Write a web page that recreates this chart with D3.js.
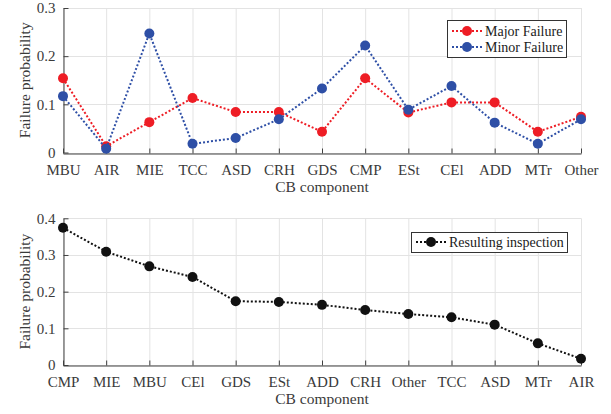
<!DOCTYPE html>
<html>
<head>
<meta charset="utf-8">
<script src="https://cdn.jsdelivr.net/npm/d3@7"></script>
<style>
  body { margin: 0; background: #fff; }
  .grid line { stroke: #e3e3e3; stroke-width: 1; }
</style>
</head>
<body>
<div id="chart"></div>
<script>
var width = 611, height = 414;
var serif = "'Liberation Serif', 'Times New Roman', Times, serif";

// top panel data
var catsTop = ["MBU", "AIR", "MIE", "TCC", "ASD", "CRH", "GDS", "CMP", "ESt", "CEl", "ADD", "MTr", "Other"];
var majorFailure = [0.154, 0.013, 0.063, 0.113, 0.084, 0.084, 0.043, 0.154, 0.083, 0.104, 0.104, 0.043, 0.074];
var minorFailure = [0.117, 0.008, 0.247, 0.018, 0.030, 0.069, 0.133, 0.222, 0.089, 0.138, 0.062, 0.018, 0.069];
var ticksTop = [0, 0.1, 0.2, 0.3];

// bottom panel data
var catsBottom = ["CMP", "MIE", "MBU", "CEl", "GDS", "ESt", "ADD", "CRH", "Other", "TCC", "ASD", "MTr", "AIR"];
var resulting = [0.374, 0.309, 0.269, 0.240, 0.174, 0.172, 0.164, 0.150, 0.139, 0.130, 0.110, 0.059, 0.017];
var ticksBottom = [0, 0.1, 0.2, 0.3, 0.4];

var red = "#ee1d25", blue = "#2e4fa6", black = "#111";

var svg = d3.select("#chart").append("svg")
  .attr("width", width)
  .attr("height", height)
  .attr("font-family", serif);

function panel(opts) {
  var x = d3.scalePoint().domain(opts.cats).range([63, 581]);
  var y = d3.scaleLinear().domain(opts.yDomain).range([opts.y0, opts.y1]);
  var g = svg.append("g");

  // grid
  var grid = g.append("g").attr("class", "grid");
  grid.selectAll(".gx").data(opts.cats).enter().append("line")
    .attr("x1", function(d) { return x(d) + 0.5; }).attr("x2", function(d) { return x(d) + 0.5; })
    .attr("y1", opts.y0).attr("y2", opts.y1);
  grid.selectAll(".gy").data(opts.ticks).enter().append("line")
    .attr("x1", 63).attr("x2", 581)
    .attr("y1", function(d) { return Math.round(y(d)) + 0.5; })
    .attr("y2", function(d) { return Math.round(y(d)) + 0.5; });

  // axes
  var ax = g.append("g").attr("transform", "translate(0," + (Math.round(opts.y0) + 0.5) + ")")
    .call(d3.axisBottom(x).tickSizeInner(-5).tickSizeOuter(0).tickPadding(11));
  var ay = g.append("g").attr("transform", "translate(63.5,0)")
    .call(d3.axisLeft(y).tickValues(opts.ticks).tickFormat(function(d) { return d === 0 ? "0" : d3.format(".1f")(d); })
      .tickSizeInner(-5).tickSizeOuter(0).tickPadding(8));
  [ax, ay].forEach(function(a) {
    a.attr("font-family", serif).attr("font-size", 15);
    a.select(".domain").attr("stroke", "#404040");
    a.selectAll(".tick line").attr("stroke", "#404040");
    a.selectAll("text").attr("fill", "#3a3a3a");
  });

  g.append("text")
    .attr("transform", "translate(30," + ((opts.y0 + opts.y1) / 2) + ") rotate(-90)")
    .attr("text-anchor", "middle")
    .attr("font-size", 15.5)
    .attr("fill", "#3a3a3a")
    .text("Failure probability");
  g.append("text")
    .attr("x", 322).attr("y", opts.y0 + 39)
    .attr("text-anchor", "middle")
    .attr("font-size", 15.5)
    .attr("fill", "#3a3a3a")
    .text("CB component");

  opts.series.forEach(function(s) {
    var line = d3.line()
      .x(function(d, i) { return x(opts.cats[i]); })
      .y(function(d) { return y(d); });
    g.append("path").datum(s.values)
      .attr("fill", "none").attr("stroke", s.color)
      .attr("stroke-width", 2).attr("stroke-dasharray", "2,2")
      .attr("d", line);
    g.selectAll(null).data(s.values).enter().append("circle")
      .attr("cx", function(d, i) { return x(opts.cats[i]); })
      .attr("cy", function(d) { return y(d); })
      .attr("r", 5).attr("fill", s.color);
  });

  // legend
  var lg = opts.legend;
  g.append("rect")
    .attr("x", lg.x + 0.5).attr("y", lg.y + 0.5)
    .attr("width", lg.w).attr("height", lg.h)
    .attr("fill", "#fff").attr("stroke", "#333").attr("stroke-width", 1);
  opts.series.forEach(function(s, i) {
    var cy = lg.y + lg.rowY + i * 16;
    g.append("line")
      .attr("x1", lg.x + 5).attr("x2", lg.x + 35)
      .attr("y1", cy).attr("y2", cy)
      .attr("stroke", s.color).attr("stroke-width", 2).attr("stroke-dasharray", "2,2");
    g.append("circle").attr("cx", lg.x + 20).attr("cy", cy).attr("r", 5).attr("fill", s.color);
    g.append("text")
      .attr("x", lg.x + 38).attr("y", cy).attr("dy", "0.35em")
      .attr("font-size", 14)
      .attr("fill", "#1a1a1a")
      .text(s.name);
  });
}

panel({
  cats: catsTop, yDomain: [0, 0.3], y0: 152.5, y1: 8, ticks: ticksTop,
  series: [
    { name: "Major Failure", values: majorFailure, color: red },
    { name: "Minor Failure", values: minorFailure, color: blue }
  ],
  legend: { x: 447, y: 20, w: 119, h: 37, rowY: 11 }
});

panel({
  cats: catsBottom, yDomain: [0, 0.4], y0: 365, y1: 218.3, ticks: ticksBottom,
  series: [
    { name: "Resulting inspection", values: resulting, color: black }
  ],
  legend: { x: 411, y: 232, w: 156, h: 20, rowY: 10 }
});
</script>
</body>
</html>
